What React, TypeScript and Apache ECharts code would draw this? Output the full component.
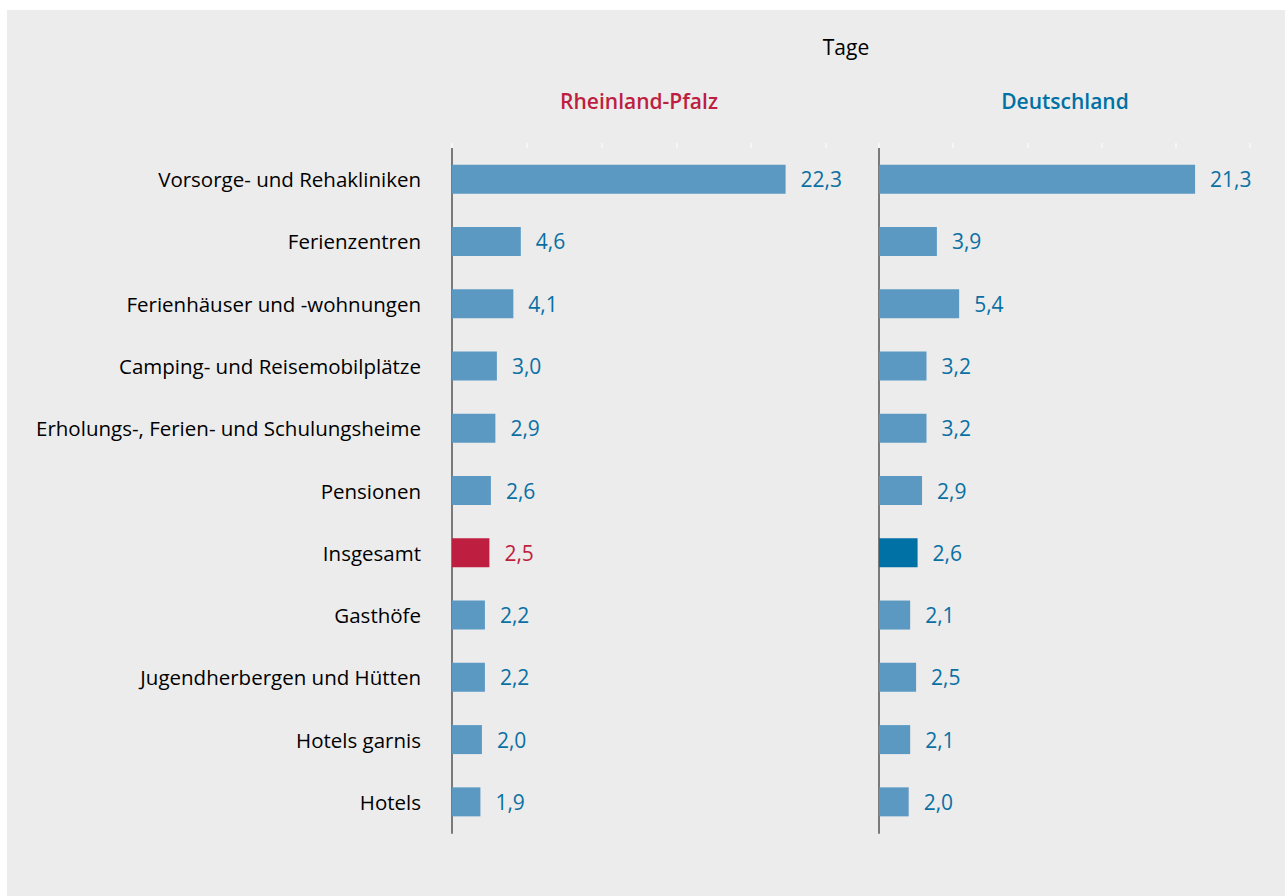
import React, { useEffect, useRef } from "react";
import * as echarts from "echarts";

const categories = [
  "Vorsorge- und Rehakliniken",
  "Ferienzentren",
  "Ferienhäuser und -wohnungen",
  "Camping- und Reisemobilplätze",
  "Erholungs-, Ferien- und Schulungsheime",
  "Pensionen",
  "Insgesamt",
  "Gasthöfe",
  "Jugendherbergen und Hütten",
  "Hotels garnis",
  "Hotels",
];
const rpValues = [22.3, 4.6, 4.1, 3.0, 2.9, 2.6, 2.5, 2.2, 2.2, 2.0, 1.9];
const deValues = [21.3, 3.9, 5.4, 3.2, 3.2, 2.9, 2.6, 2.1, 2.5, 2.1, 2.0];
const highlightCategory = "Insgesamt";

const FONT = "Open Sans";
const BAR = "#5b99c3";
const RP_RED = "#be1e3f";
const DE_BLUE = "#0071a4";
const LABEL_BLUE = "#0a70a3";

export default function App() {
  const ref = useRef<HTMLDivElement>(null);
  useEffect(() => {
    document.body.style.margin = "0";
    const chart = echarts.init(ref.current!, undefined, { renderer: "svg" });
    const fmt = (v: number) => v.toFixed(1).replace(".", ",");
    const mk = (vals: number[], hi: string) =>
      vals.map((v, i) => {
        const isHi = categories[i] === highlightCategory;
        return {
          value: v,
          itemStyle: { color: isHi ? hi : BAR },
          label: { color: isHi && hi === RP_RED ? RP_RED : LABEL_BLUE },
        };
      });
    const xAxisBase = {
      type: "value",
      position: "top",
      min: 0,
      max: 25,
      interval: 5,
      axisLine: { show: false },
      axisTick: { show: true, length: 5, lineStyle: { color: "#f6f6f6", width: 2 } },
      axisLabel: { show: false },
      splitLine: { show: false },
    };
    const yAxisBase = {
      type: "category",
      data: categories,
      inverse: true,
      axisLine: { show: true, lineStyle: { color: "#7a7a7a", width: 2 } },
      axisTick: { show: false },
    };
    const valueLabel = {
      show: true,
      position: "right",
      distance: 15,
      fontSize: 21,
      fontFamily: FONT,
      formatter: (p: any) => fmt(p.value),
    };
    chart.setOption({
      animation: false,
      backgroundColor: "#ffffff",
      textStyle: { fontFamily: FONT },
      graphic: [
        {
          type: "rect",
          z: -10,
          shape: { x: 7, y: 10, width: 1278, height: 886 },
          style: { fill: "#ececec" },
        },
        {
          type: "text",
          x: 846,
          y: 47,
          style: {
            text: "Tage",
            fill: "#000",
            font: `21px "${FONT}"`,
            textAlign: "center",
            textVerticalAlign: "middle",
          },
        },
        {
          type: "text",
          x: 639,
          y: 101,
          style: {
            text: "Rheinland-Pfalz",
            fill: RP_RED,
            font: `600 21px "${FONT}"`,
            textAlign: "center",
            textVerticalAlign: "middle",
          },
        },
        {
          type: "text",
          x: 1065,
          y: 101,
          style: {
            text: "Deutschland",
            fill: DE_BLUE,
            font: `600 21px "${FONT}"`,
            textAlign: "center",
            textVerticalAlign: "middle",
          },
        },
      ],
      grid: [
        { left: 452, width: 374, top: 148, height: 685 },
        { left: 879, width: 371, top: 148, height: 685 },
      ],
      xAxis: [
        { ...xAxisBase, gridIndex: 0 },
        { ...xAxisBase, gridIndex: 1 },
      ],
      yAxis: [
        {
          ...yAxisBase,
          gridIndex: 0,
          axisLabel: { show: true, margin: 31, fontSize: 20.5, color: "#000", fontFamily: FONT },
        },
        { ...yAxisBase, gridIndex: 1, axisLabel: { show: false } },
      ],
      series: [
        {
          type: "bar",
          xAxisIndex: 0,
          yAxisIndex: 0,
          barWidth: 29,
          data: mk(rpValues, RP_RED),
          label: valueLabel,
        },
        {
          type: "bar",
          xAxisIndex: 1,
          yAxisIndex: 1,
          barWidth: 29,
          data: mk(deValues, DE_BLUE),
          label: valueLabel,
        },
      ],
    });
    return () => chart.dispose();
  }, []);
  return <div ref={ref} style={{ width: 1285, height: 896 }} />;
}
